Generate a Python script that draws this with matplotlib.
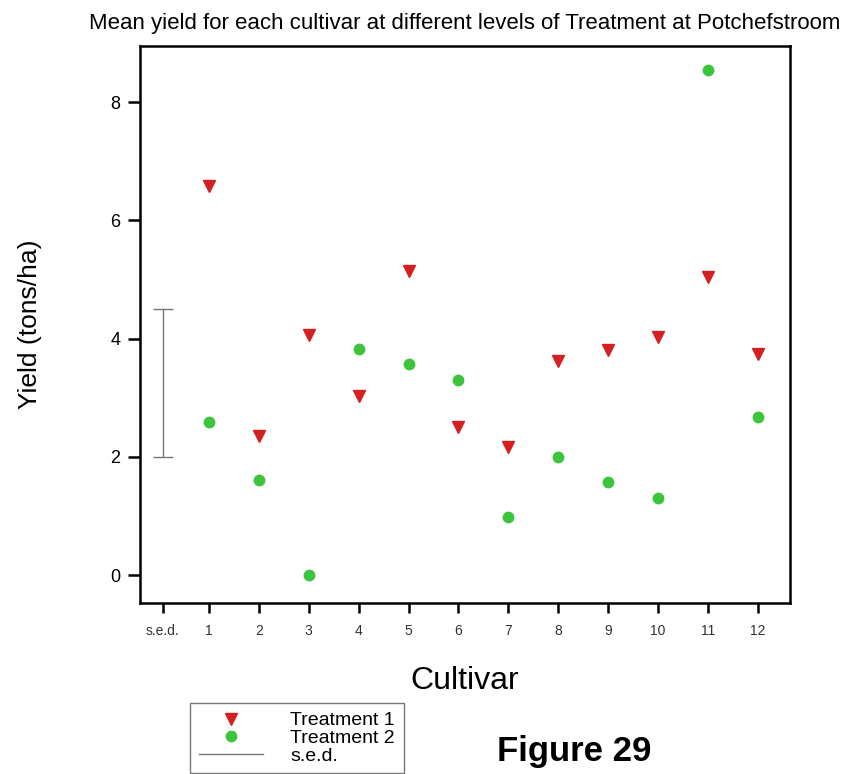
import matplotlib
matplotlib.use("Agg")
import matplotlib.pyplot as plt
from matplotlib.lines import Line2D

plt.rcParams['font.family'] = ['Liberation Sans', 'DejaVu Sans']

cultivars = [1, 2, 3, 4, 5, 6, 7, 8, 9, 10, 11, 12]
treatment1 = [6.58, 2.35, 4.06, 3.03, 5.14, 2.50, 2.17, 3.62, 3.81, 4.03, 5.04, 3.74]
treatment2 = [2.59, 1.61, 0.00, 3.82, 3.57, 3.30, 0.98, 2.00, 1.57, 1.30, 8.54, 2.67]
sed_pos = 0.08
sed_low, sed_high = 2.0, 4.5
tick_labels = ["s.e.d."] + [str(c) for c in cultivars]

fig = plt.figure(figsize=(8.43, 7.74), dpi=100)
ax = fig.add_axes([0.166, 0.221, 0.771, 0.7196])

ax.plot(cultivars, treatment1, linestyle="none", marker="v", markersize=9,
        color="#d42020", label="Treatment 1")
ax.plot(cultivars, treatment2, linestyle="none", marker="o", markersize=7.5,
        color="#3cc43c", label="Treatment 2")
ax.errorbar([sed_pos], [(sed_low + sed_high) / 2], yerr=[(sed_high - sed_low) / 2],
            color="#777777", linewidth=1, capsize=7, capthick=1, fmt="none")

ax.set_xlim(-0.38, 12.64)
ax.set_ylim(-0.47, 8.95)
ax.set_yticks([0, 2, 4, 6, 8])
ax.set_xticks([sed_pos] + cultivars)
ax.set_xticklabels(tick_labels, fontsize=10, color="#333333")
ax.tick_params(axis="y", labelsize=13, length=9, width=1.8, direction="out", pad=5)
ax.tick_params(axis="x", length=7, width=1.8, direction="out", pad=8)
for s in ax.spines.values():
    s.set_linewidth(1.8)

ax.set_title("Mean yield for each cultivar at different levels of Treatment at Potchefstroom",
             fontsize=16, pad=12)
ax.set_xlabel("Cultivar", fontsize=23, labelpad=20)
ax.set_ylabel("Yield (tons/ha)", fontsize=19, labelpad=49)

handles = [
    Line2D([], [], linestyle="none", marker="v", markersize=9, color="#d42020"),
    Line2D([], [], linestyle="none", marker="o", markersize=7.5, color="#3cc43c"),
    Line2D([], [], color="#777777", linewidth=1),
]
leg = fig.legend(handles, ["Treatment 1", "Treatment 2", "s.e.d."],
                 loc="upper left", bbox_to_anchor=(190 / 843, 1 - 703 / 774),
                 borderaxespad=0, fontsize=14, fancybox=False,
                 edgecolor="#555555", handlelength=3.3, handletextpad=1.4,
                 labelspacing=0, borderpad=0.45)

fig.text(497 / 843, 1 - 752 / 774, "Figure 29", fontsize=25, fontweight="bold",
         va="center")

fig.savefig("out.png", dpi=100)
